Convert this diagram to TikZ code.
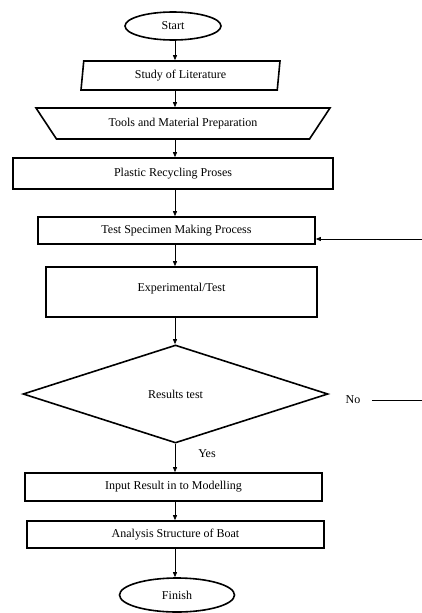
\documentclass[tikz,border=0pt]{standalone}
\usepackage{fontspec}
\setmainfont{Liberation Serif}
\usetikzlibrary{shapes.geometric,arrows.meta}

\begin{document}
\begin{tikzpicture}[
    x=1pt, y=-1pt,
    font=\fontsize{12}{14}\selectfont,
    term node/.style={ellipse, draw=black, line width=1.6pt, inner sep=0pt},
    io node/.style={trapezium, trapezium left angle=76, trapezium right angle=104, trapezium stretches body, draw=black, line width=1.6pt, inner sep=0pt},
    prep node/.style={trapezium, trapezium left angle=28, trapezium right angle=28, shape border rotate=180, trapezium stretches body, draw=black, line width=1.6pt, inner sep=0pt},
    proc node/.style={rectangle, draw=black, line width=1.6pt, inner sep=0pt},
    dec node/.style={diamond, draw=black, line width=1.6pt, inner sep=0pt},
    main edge/.style={line width=0.8pt, -{Triangle[length=5pt,width=4pt]}}
]
\useasboundingbox (0,0) rectangle (422,613);

% flow axis for the vertical arrows
\coordinate (axis) at (175,0);

% boxes of the chart, top to bottom
\node[term node, minimum width=96pt, minimum height=28pt]  (start) at (173,  26) {Start};
\node[io node,   minimum width=199pt, minimum height=29pt] (lit)   at (180.5,75.5) {Study of Literature};
\node[prep node, minimum width=294pt, minimum height=31pt] (tools) at (183, 123.5) {Tools and Material Preparation};
\node[proc node, minimum width=320pt, minimum height=31pt] (plast) at (173, 173.5) {Plastic Recycling Proses};
\node[proc node, minimum width=277pt, minimum height=27pt] (spec)  at (176.5,230.5) {Test Specimen Making Process};
\node[proc node, minimum width=271pt, minimum height=50pt, text depth=10pt] (exper) at (181.5,292) {Experimental/Test};
\node[dec node,  minimum width=305pt, minimum height=98pt] (res)   at (175.5,394) {Results test};
\node[proc node, minimum width=297pt, minimum height=28pt] (input) at (173.5,487) {Input Result in to Modelling};
\node[proc node, minimum width=297pt, minimum height=27pt] (anal)  at (175.5,534.5) {Analysis Structure of Boat};
\node[term node, minimum width=115pt, minimum height=34pt] (fin)   at (177, 595) {Finish};

% labels of the decision
\node (no)  at (353,400) {No};
\node (yes) at (207,454) {Yes};

% down the chart
\foreach \a/\b in {start/lit, lit/tools, tools/plast, plast/spec, spec/exper, exper/res, res/input, input/anal, anal/fin}
  \draw[main edge] (\a.south -| axis) -- (\b.north -| axis);

% loop back on No
\coordinate (noend)   at (422,400);
\coordinate (backin)  at (422,239);
\draw[line width=0.8pt] (no.east) ++(8,0) -- (noend);
\draw[main edge] (backin) -- (backin -| spec.east);

\end{tikzpicture}
\end{document}
